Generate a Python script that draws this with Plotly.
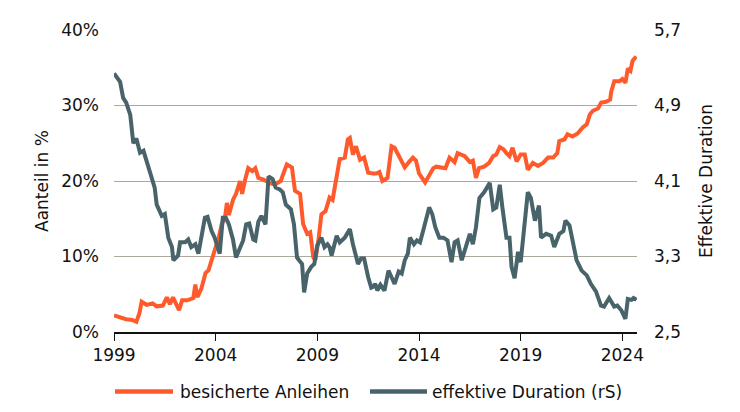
import plotly.graph_objects as go

# --- data ---
years_orange = [1999.0, 1999.3, 1999.6, 1999.9, 2000.1, 2000.25, 2000.36, 2000.6, 2000.9, 2001.1,
                2001.4, 2001.6, 2001.75, 2001.9, 2002.05, 2002.2, 2002.35, 2002.6, 2002.9, 2003.0,
                2003.1, 2003.3, 2003.5, 2003.65, 2003.8, 2004.0, 2004.15, 2004.3, 2004.45, 2004.55,
                2004.65, 2004.85, 2005.0, 2005.2, 2005.3, 2005.45, 2005.6, 2005.8, 2005.95, 2006.1,
                2006.35, 2006.6, 2006.8, 2007.0, 2007.2, 2007.4, 2007.5, 2007.75, 2007.9, 2008.15,
                2008.3, 2008.5, 2008.65, 2008.8, 2008.9, 2009.05, 2009.2, 2009.4, 2009.6, 2009.75,
                2009.95, 2010.1, 2010.35, 2010.5, 2010.6, 2010.75, 2010.9, 2011.1, 2011.3, 2011.5,
                2011.75, 2011.9, 2012.05, 2012.2, 2012.45, 2012.65, 2012.8, 2013.05, 2013.3, 2013.5,
                2013.7, 2013.85, 2014.0, 2014.3, 2014.45, 2014.7, 2014.85, 2015.1, 2015.3, 2015.5,
                2015.75, 2015.9, 2016.25, 2016.5, 2016.65, 2016.8, 2016.95, 2017.2, 2017.45, 2017.65,
                2017.8, 2017.97, 2018.15, 2018.3, 2018.45, 2018.6, 2018.8, 2019.0, 2019.2, 2019.35,
                2019.6, 2019.85, 2020.1, 2020.35, 2020.6, 2020.8, 2020.9, 2021.15, 2021.3, 2021.55,
                2021.8, 2022.05, 2022.25, 2022.4, 2022.55, 2022.8, 2022.96, 2023.2, 2023.4, 2023.45,
                2023.6, 2023.85, 2024.0, 2024.15, 2024.27, 2024.4, 2024.5, 2024.68]
share_pct = [2.2, 1.9, 1.7, 1.6, 1.35, 2.5, 4.0, 3.6, 3.8, 3.4,
             3.5, 4.6, 3.7, 4.6, 3.6, 2.9, 4.2, 4.2, 4.5, 6.3,
             4.6, 5.8, 7.8, 8.2, 9.5, 11.2, 12.5, 14.3, 15.0, 17.1,
             15.5, 17.5, 18.3, 20.0, 18.3, 20.2, 21.7, 21.3, 21.7, 20.4,
             20.2, 19.8, 19.6, 19.7, 20.0, 21.5, 22.2, 21.8, 18.7, 18.3,
             14.3, 13.0, 13.2, 9.9, 9.5, 12.1, 15.6, 16.0, 17.8, 17.5,
             20.9, 22.9, 23.1, 25.5, 25.7, 23.5, 24.6, 22.8, 23.1, 21.1,
             21.0, 21.0, 21.2, 20.0, 20.4, 24.6, 24.4, 23.1, 21.8, 22.5,
             23.1, 22.7, 21.0, 19.8, 20.6, 21.7, 21.9, 21.8, 21.7, 23.1,
             22.5, 23.7, 23.3, 22.5, 22.7, 20.4, 21.7, 21.9, 22.4, 23.3,
             23.5, 24.5, 24.2, 23.7, 23.3, 24.4, 22.6, 23.5, 23.5, 21.5,
             22.4, 22.0, 22.4, 23.1, 23.1, 23.7, 25.3, 25.5, 26.2, 25.9,
             26.3, 27.1, 27.5, 28.8, 29.3, 29.6, 30.4, 30.5, 30.8, 31.8,
             33.2, 33.2, 33.5, 33.0, 34.9, 34.6, 35.9, 36.5]

years_gray = [1999.0, 1999.3, 1999.45, 1999.6, 1999.8, 1999.95, 2000.1, 2000.28, 2000.45, 2000.6,
              2000.85, 2001.0, 2001.1, 2001.35, 2001.5, 2001.67, 2001.85, 2001.92, 2002.15, 2002.25,
              2002.5, 2002.65, 2002.8, 2003.0, 2003.15, 2003.3, 2003.47, 2003.6, 2003.8, 2003.95,
              2004.2, 2004.35, 2004.5, 2004.65, 2004.85, 2005.0, 2005.2, 2005.35, 2005.5, 2005.65,
              2005.85, 2005.95, 2006.1, 2006.25, 2006.45, 2006.6, 2006.8, 2006.95, 2007.15, 2007.3,
              2007.45, 2007.7, 2007.85, 2008.0, 2008.1, 2008.25, 2008.35, 2008.5, 2008.7, 2008.85,
              2009.0, 2009.2, 2009.35, 2009.5, 2009.6, 2009.7, 2009.95, 2010.1, 2010.35, 2010.6,
              2010.75, 2011.0, 2011.15, 2011.3, 2011.5, 2011.65, 2011.75, 2011.85, 2011.95, 2012.1,
              2012.3, 2012.5, 2012.65, 2012.8, 2013.0, 2013.15, 2013.3, 2013.45, 2013.55, 2013.75,
              2013.9, 2014.05, 2014.2, 2014.35, 2014.5, 2014.65, 2014.8, 2015.0, 2015.2, 2015.4,
              2015.6, 2015.75, 2015.9, 2016.1, 2016.3, 2016.5, 2016.65, 2016.8, 2016.97, 2017.2,
              2017.48, 2017.65, 2017.8, 2017.97, 2018.1, 2018.3, 2018.45, 2018.55, 2018.7, 2018.87,
              2019.0, 2019.2, 2019.35, 2019.5, 2019.7, 2019.9, 2020.0, 2020.25, 2020.5, 2020.65,
              2020.9, 2021.1, 2021.2, 2021.4, 2021.6, 2021.75, 2022.0, 2022.25, 2022.45, 2022.7,
              2022.95, 2023.1, 2023.35, 2023.6, 2023.75, 2023.95, 2024.15, 2024.27, 2024.45, 2024.55,
              2024.7]
duration = [5.24, 5.15, 4.98, 4.93, 4.80, 4.50, 4.55, 4.40, 4.42, 4.31,
            4.13, 4.03, 3.85, 3.73, 3.75, 3.50, 3.40, 3.26, 3.31, 3.45,
            3.45, 3.48, 3.40, 3.43, 3.33, 3.50, 3.71, 3.72, 3.57, 3.50,
            3.33, 3.71, 3.71, 3.64, 3.48, 3.29, 3.40, 3.47, 3.64, 3.65,
            3.48, 3.47, 3.67, 3.73, 3.64, 4.15, 4.12, 4.03, 4.01, 3.98,
            3.85, 3.80, 3.64, 3.29, 3.26, 3.22, 2.92, 3.12, 3.19, 3.22,
            3.42, 3.50, 3.40, 3.43, 3.40, 3.31, 3.52, 3.45, 3.50, 3.59,
            3.43, 3.22, 3.28, 3.28, 3.08, 2.97, 2.98, 3.01, 2.94, 3.00,
            2.94, 3.15, 3.08, 3.01, 3.14, 3.12, 3.26, 3.33, 3.50, 3.43,
            3.47, 3.45, 3.57, 3.70, 3.82, 3.75, 3.61, 3.50, 3.50, 3.47,
            3.24, 3.45, 3.47, 3.26, 3.42, 3.54, 3.43, 3.61, 3.92, 3.98,
            4.08, 3.80, 3.82, 4.06, 3.82, 3.50, 3.50, 3.19, 3.07, 3.35,
            3.24, 3.71, 3.98, 3.92, 3.68, 3.84, 3.50, 3.54, 3.52, 3.40,
            3.54, 3.57, 3.68, 3.63, 3.40, 3.26, 3.15, 3.10, 3.01, 2.93,
            2.78, 2.77, 2.86, 2.77, 2.78, 2.73, 2.64, 2.85, 2.84, 2.86,
            2.84]

left_ticks = [0, 10, 20, 30, 40]
left_labels = ["0%", "10%", "20%", "30%", "40%"]
right_ticks = [2.5, 3.3, 4.1, 4.9, 5.7]
right_labels = ["2,5", "3,3", "4,1", "4,9", "5,7"]
x_ticks = [1999, 2004, 2009, 2014, 2019, 2024]

name_orange = "besicherte Anleihen"
name_gray = "effektive Duration (rS)"
title_left = "Aanteil in %"
title_right = "Effektive Duration"

ORANGE = "#FF5A2B"
GRAY = "#48636A"
GRID = "#ADA89C"
FONT = "DejaVu Sans"

# plot area in page pixels (page has an 8px body offset)
PX0, PX1, PY0, PY1 = 114, 637, 28, 332
OFF = 8
PW, PH = PX1 - PX0, PY1 - PY0

fig = go.Figure()
fig.add_trace(go.Scatter(x=years_orange, y=share_pct, mode="lines", name=name_orange,
                         line=dict(color=ORANGE, width=4), yaxis="y"))
fig.add_trace(go.Scatter(x=years_gray, y=duration, mode="lines", name=name_gray,
                         line=dict(color=GRAY, width=4), yaxis="y2"))

fig.update_layout(
    width=740, height=412,
    margin=dict(l=PX0 - OFF, r=740 - (PX1 - OFF), t=PY0 - OFF, b=412 - (PY1 - OFF)),
    paper_bgcolor="white", plot_bgcolor="white",
    font=dict(family=FONT, size=17, color="#111111"),
    showlegend=False,
    xaxis=dict(range=[1999, 2024.72], tickvals=x_ticks, ticktext=[str(v) for v in x_ticks],
               showgrid=False, zeroline=False, showline=True, linecolor="#111111", linewidth=1.5,
               ticks="outside", ticklen=7, tickcolor="#111111", tickwidth=1.2,
               tickfont=dict(size=17)),
    yaxis=dict(range=[0, 40], tickvals=left_ticks, ticktext=left_labels,
               showgrid=True, gridcolor=GRID, gridwidth=1, zeroline=False, showline=False,
               ticks="", ticklabelstandoff=14, tickfont=dict(size=17)),
    yaxis2=dict(range=[2.5, 5.7], tickvals=right_ticks, ticktext=right_labels,
                overlaying="y", side="right", showgrid=False, zeroline=False, showline=False,
                ticks="", ticklabelstandoff=16, tickfont=dict(size=17)),
)

# axis titles
fig.add_annotation(text=title_left, xref="paper", yref="paper", x=(42 - PX0) / PW, y=0.5,
                   textangle=-90, showarrow=False, font=dict(size=17), xanchor="center", yanchor="middle")
fig.add_annotation(text=title_right, xref="paper", yref="paper", x=(706 - PX0) / PW, y=0.5,
                   textangle=-90, showarrow=False, font=dict(size=17), xanchor="center", yanchor="middle")

# manual legend
ly = (PY1 - 392) / PH
fig.add_shape(type="line", xref="paper", yref="paper", x0=(115 - PX0) / PW, x1=(173 - PX0) / PW,
              y0=ly, y1=ly, line=dict(color=ORANGE, width=4.5))
fig.add_annotation(text=name_orange, xref="paper", yref="paper", x=(178 - PX0) / PW, y=ly,
                   xanchor="left", yanchor="middle", showarrow=False, font=dict(size=17))
fig.add_shape(type="line", xref="paper", yref="paper", x0=(370 - PX0) / PW, x1=(427 - PX0) / PW,
              y0=ly, y1=ly, line=dict(color=GRAY, width=4.5))
fig.add_annotation(text=name_gray, xref="paper", yref="paper", x=(430 - PX0) / PW, y=ly,
                   xanchor="left", yanchor="middle", showarrow=False, font=dict(size=17))

fig.write_html("out.html")
